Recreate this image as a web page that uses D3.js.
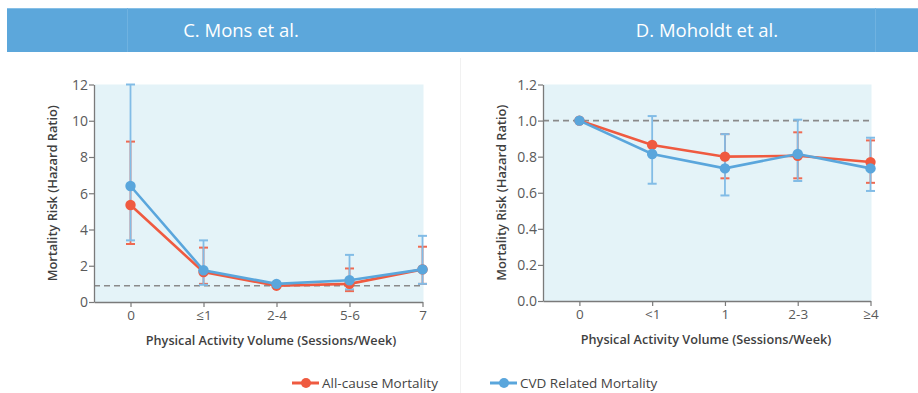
<!DOCTYPE html>
<html>
<head>
<meta charset="utf-8">
<script src="https://cdn.jsdelivr.net/npm/d3@7"></script>
<style>
  html, body { margin: 0; padding: 0; background: #fff; }
  svg { display: block; }
  text { font-family: "Open Sans", "Noto Sans", sans-serif; }
</style>
</head>
<body>
<svg id="chart" width="918" height="393"></svg>
<script>
// Panel C: Mons et al.
const monsCategories = ["0", "≤1", "2-4", "5-6", "7"];
const monsAllCause   = [5.35, 1.65, 0.9, 1.0, 1.8];
const monsAllLow     = [3.2, 1.0, null, 0.6, 1.0];
const monsAllHigh    = [8.85, 3.0, null, 1.85, 3.05];
const monsCvd        = [6.4, 1.75, 1.0, 1.2, 1.8];
const monsCvdLow     = [3.4, 0.95, null, 0.7, 1.0];
const monsCvdHigh    = [12.0, 3.4, null, 2.6, 3.65];
const monsTicks      = [0, 2, 4, 6, 8, 10, 12];
const monsReference  = 0.9;

// Panel D: Moholdt et al.
const moholdtCategories = ["0", "<1", "1", "2-3", "≥4"];
const moholdtAllCause   = [1.0, 0.865, 0.80, 0.805, 0.77];
const moholdtAllLow     = [null, null, 0.68, 0.68, 0.655];
const moholdtAllHigh    = [null, null, 0.925, 0.935, 0.89];
const moholdtCvd        = [1.0, 0.815, 0.735, 0.815, 0.735];
const moholdtCvdLow     = [null, 0.65, 0.585, 0.665, 0.61];
const moholdtCvdHigh    = [null, 1.025, 0.925, 1.005, 0.905];
const moholdtTicks      = [0.0, 0.2, 0.4, 0.6, 0.8, 1.0, 1.2];
const moholdtReference  = 1.0;

const seriesNames = ["All-cause Mortality", "CVD Related Mortality"];

const RED = "#ef5a40";
const RED_BAR = "#ef6a52";
const BLUE = "#5aa6dc";
const BLUE_BAR = "#82bce6";

const svg = d3.select("#chart");

// Header band
const header = svg.append("g");
header.append("rect").attr("x", 7).attr("y", 8).attr("width", 911).attr("height", 44).attr("fill", "#5ca7db");
header.append("line").attr("x1", 7).attr("x2", 918).attr("y1", 8.5).attr("y2", 8.5).attr("stroke", "#86bfe6");
[127, 875].forEach(x => header.append("line").attr("x1", x + 0.5).attr("x2", x + 0.5)
  .attr("y1", 8).attr("y2", 52).attr("stroke", "#6fb2e0"));
header.append("text").attr("x", 241).attr("y", 37).attr("text-anchor", "middle")
  .attr("fill", "#fff").attr("font-size", 18.5).attr("font-weight", 500).text("C. Mons et al.");
header.append("text").attr("x", 707).attr("y", 37).attr("text-anchor", "middle")
  .attr("fill", "#fff").attr("font-size", 18.5).attr("font-weight", 500).text("D. Moholdt et al.");

// Faint divider between panels
svg.append("line").attr("x1", 460.5).attr("x2", 460.5).attr("y1", 58).attr("y2", 393)
  .attr("stroke", "#f1f1f1").attr("stroke-width", 1);

function drawPanel(cfg) {
  const g = svg.append("g");
  const x = d3.scaleLinear().domain([-0.5, cfg.categories.length - 1]).range([cfg.left, cfg.right]);
  const y = d3.scaleLinear().domain([cfg.ticks[0], cfg.ticks[cfg.ticks.length - 1]]).range([cfg.bottom, cfg.top]);

  g.append("rect").attr("x", cfg.left).attr("y", cfg.top)
    .attr("width", cfg.right - cfg.left + 1).attr("height", cfg.bottom - cfg.top)
    .attr("fill", "#e4f3f8");

  // Reference line
  g.append("line").attr("x1", cfg.left).attr("x2", cfg.right)
    .attr("y1", y(cfg.reference)).attr("y2", y(cfg.reference))
    .attr("stroke", "#8a8a8a").attr("stroke-width", 1.6).attr("stroke-dasharray", "6,4");

  // Y axis
  const yAxis = g.append("g").attr("transform", `translate(${cfg.left},0)`)
    .call(d3.axisLeft(y).tickValues(cfg.ticks).tickFormat(cfg.tickFormat).tickSize(5).tickSizeOuter(0));
  yAxis.select(".domain").attr("stroke", "#7a7a7a").attr("stroke-width", 1.3);
  yAxis.selectAll(".tick line").attr("stroke", "#7a7a7a").attr("stroke-width", 1.2);
  yAxis.selectAll(".tick text").attr("fill", "#5a5a5a").attr("font-size", 14)
    .attr("font-family", "'Open Sans', sans-serif").attr("x", -6).attr("dy", "0.34em");

  // X axis
  const xAxis = g.append("g").attr("transform", `translate(0,${cfg.bottom})`)
    .call(d3.axisBottom(x).tickValues(d3.range(cfg.categories.length))
      .tickFormat(i => cfg.categories[i]).tickSize(5).tickSizeOuter(0));
  xAxis.select(".domain").attr("stroke", "#7a7a7a").attr("stroke-width", 1.3);
  xAxis.selectAll(".tick line").attr("stroke", "#7a7a7a").attr("stroke-width", 1.2);
  xAxis.selectAll(".tick text").attr("fill", "#5a5a5a").attr("font-size", 13.5)
    .attr("font-family", "'Open Sans', sans-serif").attr("y", 8);

  // Axis titles
  g.append("text").attr("transform", `translate(${cfg.left - 37},${(cfg.top + cfg.bottom) / 2}) rotate(-90)`)
    .attr("text-anchor", "middle").attr("fill", "#3f3f3f").attr("font-size", 12.8).attr("font-weight", 600)
    .text("Mortality Risk (Hazard Ratio)");
  g.append("text").attr("x", cfg.titleX).attr("y", cfg.bottom + 43)
    .attr("text-anchor", "middle").attr("fill", "#3f3f3f").attr("font-size", 12.7).attr("font-weight", 600)
    .text("Physical Activity Volume (Sessions/Week)");

  const line = d3.line().defined(d => d != null).x((d, i) => x(i)).y(d => y(d));

  function errorBars(lows, highs, color, capW) {
    const eg = g.append("g");
    lows.forEach((lo, i) => {
      const hi = highs[i];
      if (lo == null || hi == null) return;
      eg.append("line").attr("x1", x(i)).attr("x2", x(i)).attr("y1", y(lo)).attr("y2", y(hi))
        .attr("stroke", color).attr("stroke-width", 1.8);
      [lo, hi].forEach(v => eg.append("line").attr("x1", x(i) - capW).attr("x2", x(i) + capW)
        .attr("y1", y(v)).attr("y2", y(v)).attr("stroke", color).attr("stroke-width", 2));
    });
  }

  function series(values, color) {
    g.append("path").datum(values).attr("d", line).attr("fill", "none")
      .attr("stroke", color).attr("stroke-width", 2.6);
    g.append("g").selectAll("circle").data(values).join("circle")
      .attr("cx", (d, i) => x(i)).attr("cy", d => y(d)).attr("r", 5.2).attr("fill", color);
  }

  // Red intervals sit underneath the blue ones
  errorBars(cfg.allLow, cfg.allHigh, RED_BAR, 4.5);
  errorBars(cfg.cvdLow, cfg.cvdHigh, BLUE_BAR, 4.5);
  series(cfg.all, RED);
  series(cfg.cvd, BLUE);
}

drawPanel({
  categories: monsCategories, all: monsAllCause, allLow: monsAllLow, allHigh: monsAllHigh,
  cvd: monsCvd, cvdLow: monsCvdLow, cvdHigh: monsCvdHigh, ticks: monsTicks,
  reference: monsReference, tickFormat: d3.format("d"),
  left: 94, right: 422.5, top: 84.5, bottom: 302, titleX: 271
});

drawPanel({
  categories: moholdtCategories, all: moholdtAllCause, allLow: moholdtAllLow, allHigh: moholdtAllHigh,
  cvd: moholdtCvd, cvdLow: moholdtCvdLow, cvdHigh: moholdtCvdHigh, ticks: moholdtTicks,
  reference: moholdtReference, tickFormat: d3.format(".1f"),
  left: 543, right: 870.5, top: 84.5, bottom: 301, titleX: 706
});

// Legend
const legend = svg.append("g");
[[seriesNames[0], RED, 292], [seriesNames[1], BLUE, 490]].forEach(([name, color, lx]) => {
  legend.append("line").attr("x1", lx).attr("x2", lx + 27).attr("y1", 383).attr("y2", 383)
    .attr("stroke", color).attr("stroke-width", 3);
  legend.append("circle").attr("cx", lx + 14).attr("cy", 383).attr("r", 5).attr("fill", color);
  legend.append("text").attr("x", lx + 30).attr("y", 388).attr("fill", "#444")
    .attr("font-size", 13.5).text(name);
});
</script>
</body>
</html>
